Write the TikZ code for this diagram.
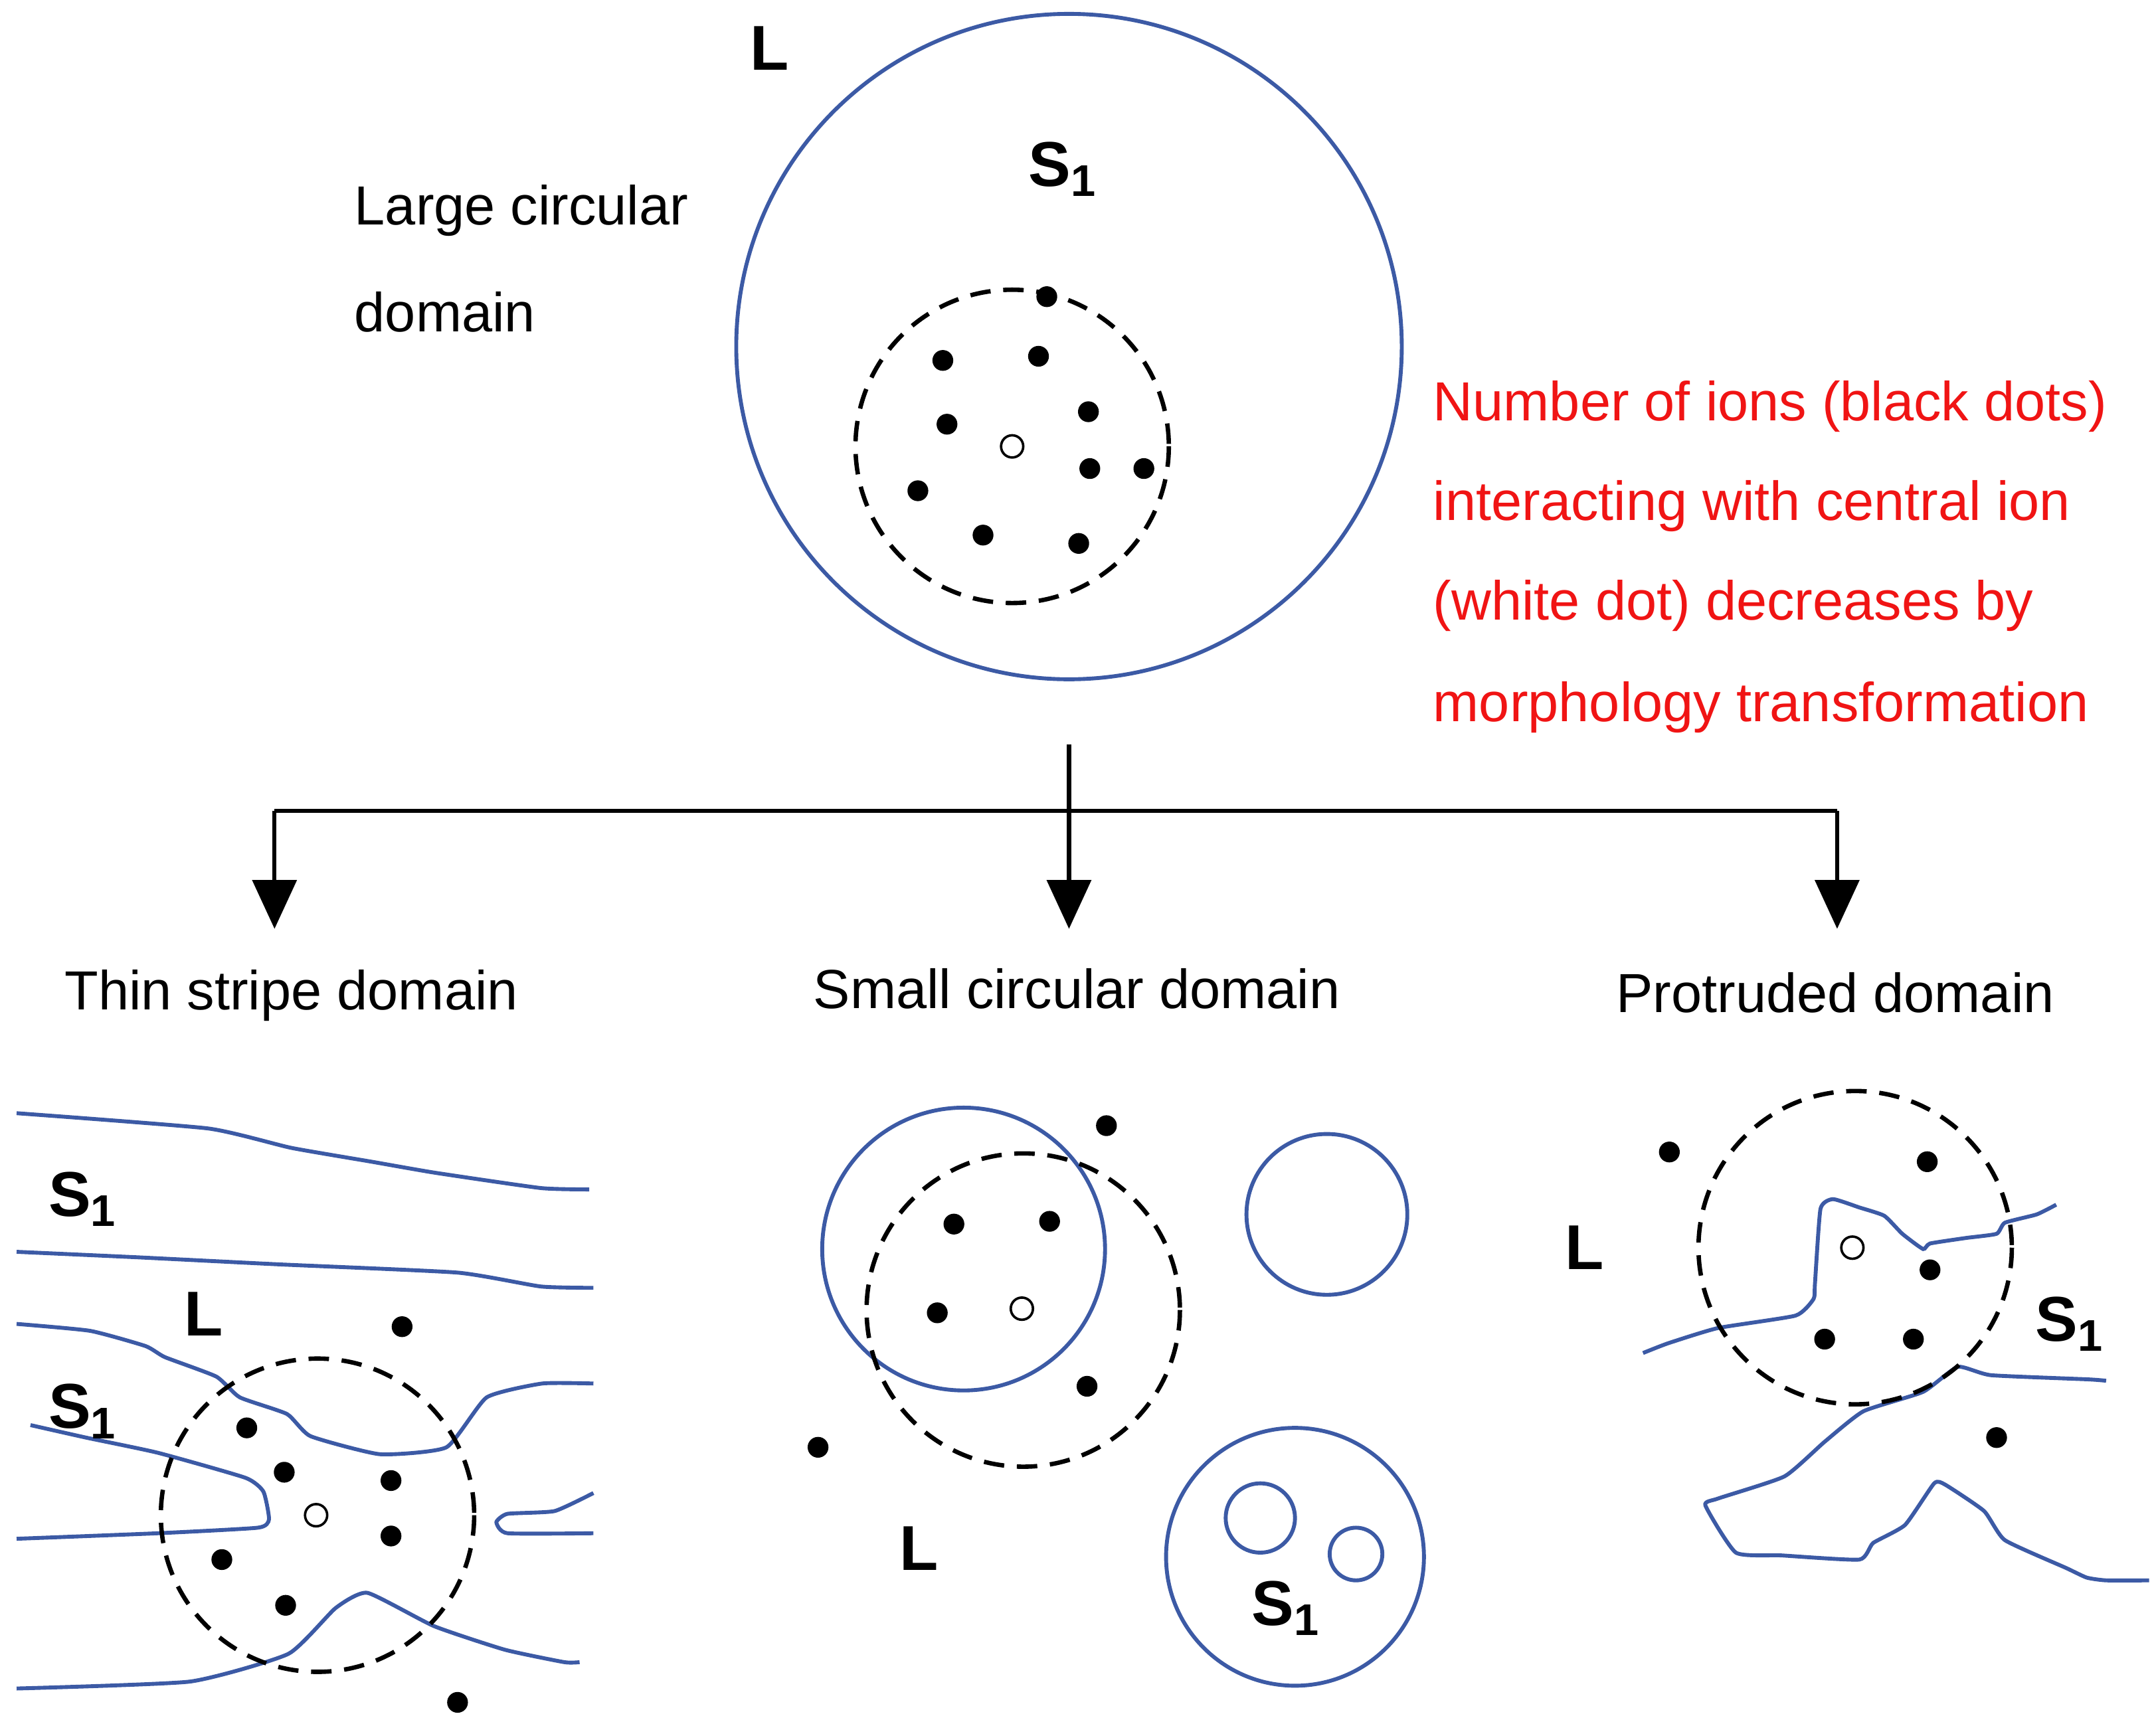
\documentclass[tikz,border=0pt]{standalone}
\usepackage{fontspec}
\setmainfont{Liberation Sans}
\usetikzlibrary{arrows.meta}
\definecolor{bl}{RGB}{60,90,165}
\definecolor{rd}{RGB}{240,20,20}
\begin{document}
\begin{tikzpicture}[x=0.01cm,y=-0.01cm,
  bnd/.style={draw=bl,line width=0.8pt},
  dsh/.style={draw=black,line width=0.9pt,dash pattern=on 4.2pt off 2.6pt},
  dot/.style={circle,fill=black,inner sep=0pt,minimum size=0.15cm},
  cen/.style={circle,draw=black,fill=white,line width=0.5pt,inner sep=0pt,minimum size=0.16cm},
  lab/.style={font=\fontsize{11.3}{13}\selectfont,anchor=west,inner sep=0pt},
  big/.style={font=\fontsize{13}{15}\selectfont\bfseries,inner sep=0pt},
  arr/.style={line width=0.85pt,-{Triangle[width=9pt,length=10pt]}}]
\useasboundingbox (0,0) rectangle (1555,1239);
% top
\draw[bnd] (771,250) circle (240);
\draw[dsh] (730,322) circle (113);
\foreach \p in {(755,214),(680,260),(749,257),(683,306),(785,297),(786,338),(825,338),(662,354),(709,386),(778,392)} \node[dot] at \p {};
\node[cen] (c0) at (730,322) {};
\node[big] (L0) at (555,35) {L};
\node[big] (S0) at (767,122) {S$_\mathbf{1}$};
\node[lab] (t1) at (255,152) {Large circular};
\node[lab] (t2) at (255,225) {domain};
\begin{scope}[every node/.style={lab,text=rd}]
\node (r1) at (1033,293) {Number of ions (black dots)};
\node (r2) at (1033,365) {interacting with central ion};
\node (r3) at (1033,437) {(white dot) decreases by};
\node (r4) at (1033,510) {morphology transformation};
\end{scope}
% arrows
\coordinate (a0) at (771,537);
\coordinate (j) at (771,585);
\coordinate (jl) at (198,585);
\coordinate (jr) at (1325,585);
\coordinate (e1) at (198,670);
\coordinate (e2) at (771,670);
\coordinate (e3) at (1325,670);
\draw[line width=0.85pt] (a0)--(j) (jl)--(jr);
\draw[arr] (jl)--(e1);
\draw[arr] (j)--(e2);
\draw[arr] (jr)--(e3);
\node[lab] (n1) at (46,718) {Thin stripe domain};
\node[lab] (n2) at (586,713) {Small circular domain};
\node[lab] (n3) at (1165,716) {Protruded domain};
% bottom left
\draw[bnd] plot[smooth,tension=0.3] coordinates {(12,803) (150,814) (210,828) (268,838) (314,846) (390,857) (425,858)};
\draw[bnd] plot[smooth,tension=0.3] coordinates {(12,903) (100,907) (200,912) (330,918) (390,928) (428,929)};
\draw[bnd] plot[smooth,tension=0.3] coordinates {(12,955) (65,960) (105,971) (119,979) (156,993) (173,1008) (207,1020) (224,1036) (274,1049) (322,1044) (351,1008) (391,998) (428,998)};
\draw[bnd] plot[smooth,tension=0.3] coordinates {(22,1028) (62,1037) (114,1048) (177,1066) (190,1076) (194,1096) (186,1102) (114,1106) (12,1110)};
\draw[bnd] plot[smooth,tension=0.3] coordinates {(12,1218) (137,1213) (208,1193) (242,1160) (265,1149) (313,1173) (364,1190) (407,1199) (418,1199)};
\draw[bnd] plot[smooth,tension=0.3] coordinates {(428,1077) (400,1090) (366,1092) (358,1098) (366,1106) (428,1106)};
\draw[dsh] (229,1093) circle (113);
\foreach \p in {(290,957),(178,1030),(205,1062),(282,1068),(282,1108),(160,1125),(206,1158),(330,1228)} \node[dot] at \p {};
\node[cen] (c1) at (228,1093) {};
\node[big] (S1a) at (60,865) {S$_\mathbf{1}$};
\node[big] (S1b) at (60,1018) {S$_\mathbf{1}$};
\node[big] (L1) at (147,948) {L};
% bottom middle
\draw[bnd] (695,901) circle (102);
\draw[dsh] (738,945) circle (113);
\draw[bnd] (957,876) circle (58);
\draw[bnd] (934,1123) circle (93);
\draw[bnd] (909,1095) circle (25);
\draw[bnd] (978,1121) circle (19);
\foreach \p in {(798,812),(688,883),(757,881),(676,947),(784,1000),(590,1044)} \node[dot] at \p {};
\node[cen] (c2) at (737,944) {};
\node[big] (L2) at (663,1117) {L};
\node[big] (S2) at (928,1160) {S$_\mathbf{1}$};
% bottom right
\draw[bnd] plot[smooth,tension=0.3] coordinates {(1185,976) (1203,969) (1239,958) (1295,949) (1308,937) (1309,926) (1313,872) (1322,865) (1341,871) (1359,877) (1372,890) (1387,901) (1392,897) (1418,893) (1440,890) (1446,882) (1469,876) (1483,869)};
\draw[bnd] plot[smooth,tension=0.3] coordinates {(1519,996) (1506,995) (1436,992) (1412,986) (1387,1004) (1344,1018) (1316,1040) (1287,1065) (1239,1081) (1230,1086) (1252,1120) (1285,1122) (1341,1125) (1351,1113) (1374,1100) (1395,1070) (1403,1071) (1431,1090) (1446,1111) (1490,1131) (1505,1138) (1519,1140) (1550,1140)};
\draw[dsh] (1338,900) circle (113);
\foreach \p in {(1204,831),(1390,838),(1392,916),(1316,966),(1380,966),(1440,1037)} \node[dot] at \p {};
\node[cen] (c3) at (1336,900) {};
\node[big] (L3) at (1143,900) {L};
\node[big] (S3) at (1493,955) {S$_\mathbf{1}$};
\end{tikzpicture}
\end{document}
